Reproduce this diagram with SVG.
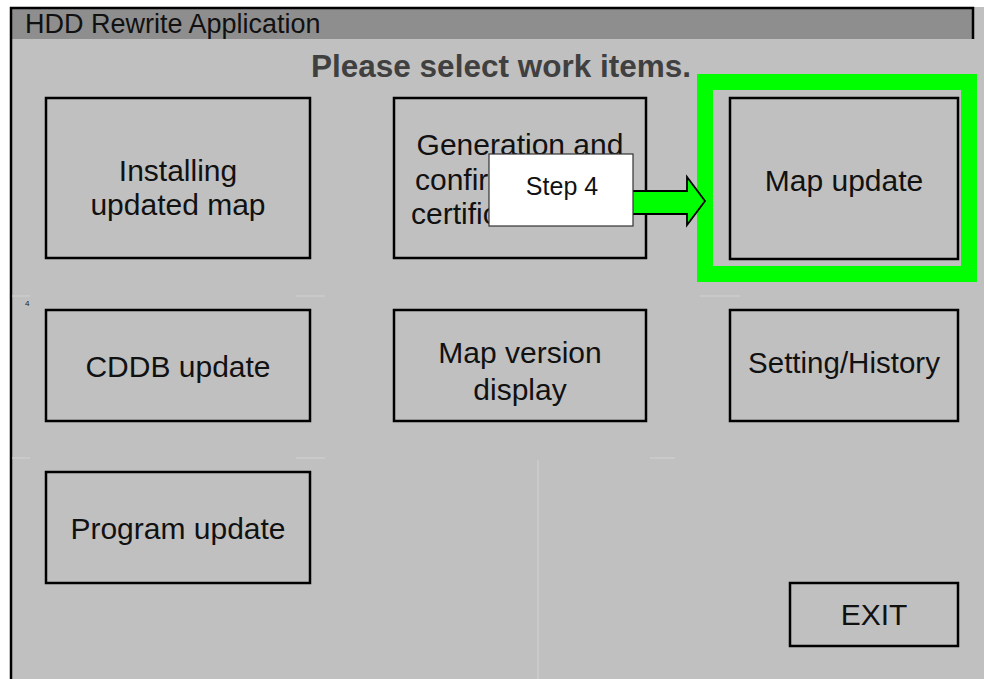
<svg xmlns="http://www.w3.org/2000/svg" width="984" height="679" viewBox="0 0 984 679">
  <style>
    .btn { fill: #c0c0c0; stroke: #000; stroke-width: 2.5; }
    .lbl { font-family: "Liberation Sans", Arial, sans-serif; font-size: 30px; fill: #111; text-anchor: middle; }
    .lbl.left { text-anchor: start; }
    .faint { stroke: #d2d2d2; stroke-width: 1; fill: none; }
  </style>

  <!-- window background and frame -->
  <rect x="0" y="0" width="984" height="679" fill="#ffffff"/>
  <rect x="10" y="7" width="974" height="672" fill="#c0c0c0"/>
  <rect x="10" y="7" width="963" height="32" fill="#8e8e8e"/>
  <path d="M11 679 V8 H973 V39" fill="none" stroke="#000" stroke-width="2.5"/>
  <text x="25" y="33" font-family="Liberation Sans, Arial, sans-serif" font-size="27" fill="#111">HDD Rewrite Application</text>

  <!-- faint guide remnants -->
  <g id="guides">
    <line class="faint" x1="538" y1="460" x2="538" y2="679"/>
    <line class="faint" x1="12" y1="296" x2="30" y2="296"/>
    <line class="faint" x1="296" y1="296" x2="325" y2="296"/>
    <line class="faint" x1="700" y1="296" x2="740" y2="296"/>
    <line class="faint" x1="12" y1="458" x2="30" y2="458"/>
    <line class="faint" x1="296" y1="458" x2="325" y2="458"/>
    <line class="faint" x1="650" y1="458" x2="675" y2="458"/>
    <line class="faint" x1="405" y1="408" x2="630" y2="408"/>
  </g>

  <text x="501" y="77" font-family="Liberation Sans, Arial, sans-serif" font-size="31.5" font-weight="bold" fill="#404040" text-anchor="middle">Please select work items.</text>
  <text x="25" y="306" font-family="Liberation Sans, Arial, sans-serif" font-size="8" fill="#222">4</text>

  <!-- row 1 -->
  <g id="installing-map">
    <rect class="btn" x="46" y="98" width="264" height="160"/>
    <text class="lbl" x="178" y="181">Installing</text>
    <text class="lbl" x="178" y="215">updated map</text>
  </g>
  <g id="certificate">
    <rect class="btn" x="394" y="98" width="252" height="160"/>
    <text class="lbl" x="520" y="155">Generation and</text>
    <text class="lbl left" x="415" y="190">confirmation of</text>
    <text class="lbl left" x="411" y="224">certificate file</text>
  </g>
  <g id="map-update">
    <rect x="705" y="82" width="264" height="192" fill="none" stroke="#00ff00" stroke-width="16"/>
    <rect class="btn" x="730" y="98" width="228" height="161"/>
    <text class="lbl" x="844" y="191">Map update</text>
  </g>

  <!-- row 2 -->
  <g id="cddb-update">
    <rect class="btn" x="46" y="310" width="264" height="111"/>
    <text class="lbl" x="178" y="377">CDDB update</text>
  </g>
  <g id="map-version">
    <rect class="btn" x="394" y="310" width="252" height="111"/>
    <text class="lbl" x="520" y="363">Map version</text>
    <text class="lbl" x="520" y="400">display</text>
  </g>
  <g id="setting-history">
    <rect class="btn" x="730" y="310" width="228" height="111"/>
    <text class="lbl" x="844" y="373" style="font-size:29.5px">Setting/History</text>
  </g>

  <!-- row 3 -->
  <g id="program-update">
    <rect class="btn" x="46" y="472" width="264" height="111"/>
    <text class="lbl" x="178" y="539">Program update</text>
  </g>
  <g id="exit">
    <rect class="btn" x="790" y="583" width="168" height="63"/>
    <text class="lbl" x="874" y="625">EXIT</text>
  </g>

  <!-- step arrow into the map update button -->
  <g id="connectors">
    <polygon points="620,191 687,191 687,177 705,201 687,225 687,214 620,214" fill="#00ff00" stroke="#000" stroke-width="1.8" stroke-linejoin="miter"/>
  </g>
  <g id="step-4">
    <rect x="489" y="154" width="144" height="72" fill="#ffffff" stroke="#333" stroke-width="1.2"/>
    <text x="562" y="195" font-family="Liberation Sans, Arial, sans-serif" font-size="25" fill="#111" text-anchor="middle">Step 4</text>
  </g>
</svg>
